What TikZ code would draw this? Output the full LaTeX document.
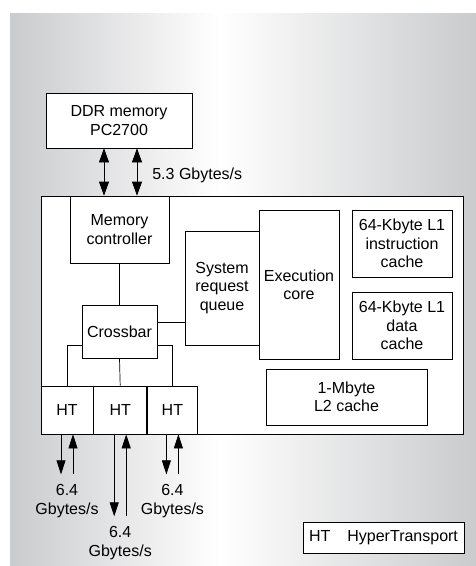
\documentclass[tikz,border=0pt]{standalone}
\usepackage{fontspec}
\setmainfont{Liberation Sans}
\usetikzlibrary{positioning,arrows.meta}
\definecolor{PanelGray}{RGB}{202,203,205}

\begin{document}
\begin{tikzpicture}[
  x=1pt, y=-1pt,
  every node/.style={font=\fontsize{16}{18.4}\selectfont, align=center},
  blk/.style={draw, fill=white, line width=0.7pt, inner sep=0pt},
  wire/.style={line width=0.7pt},
  arr/.style={-{Triangle[length=14pt,width=9pt]}, line width=0.7pt},
  dbl/.style={{Triangle[length=14pt,width=10pt]}-{Triangle[length=14pt,width=10pt]}, line width=0.7pt},
  rate/.style={inner sep=0pt}
]
\useasboundingbox (0,0) rectangle (476,566);
\shade[left color=PanelGray, right color=white] (10,13) rectangle (220,566);
\shade[left color=white, right color=PanelGray] (220,13) rectangle (476,566);

\node[blk, minimum width=146pt, minimum height=55pt] (ddr) at (119,120.5) {DDR memory\\PC2700};
\node[blk, minimum width=422pt, minimum height=238pt] (chip) at (252,315) {};
\node[blk, minimum width=99pt, minimum height=67pt] (mc) at (119.5,229.5) {Memory\\controller};
\node[blk, minimum width=75pt, minimum height=53pt] (xbar) at (119.5,331.5) {Crossbar};
\node[blk, minimum width=74pt, minimum height=114pt] (srq) at (222,288) {System\\request\\queue};
\node[blk, minimum width=80pt, minimum height=149pt] (exec) at (299,284.5) {Execution\\core};
\node[blk, minimum width=100pt, minimum height=67pt] (l1i) at (402,243.5) {64-Kbyte L1\\instruction\\cache};
\node[blk, minimum width=100pt, minimum height=67pt] (l1d) at (402,325.5) {64-Kbyte L1\\data\\cache};
\node[blk, minimum width=161pt, minimum height=56pt] (l2) at (346.5,397) {1-Mbyte\\L2 cache};
\node[blk, minimum width=52pt, minimum height=48pt] (ht1) at (67,410) {HT};
\node[blk, minimum width=53pt, minimum height=48pt, right=0pt of ht1] (ht2) {HT};
\node[blk, minimum width=50pt, minimum height=48pt, right=0pt of ht2] (ht3) {HT};
\node[blk, minimum width=161pt, minimum height=31pt] (key) at (383.5,537.5) {HT\hspace{17pt}HyperTransport};

\draw[dbl] ([xshift=-15pt]ddr.south) -- ([xshift=-15pt]ddr.south |- chip.north);
\draw[dbl] ([xshift=18pt]ddr.south) -- ([xshift=18pt]ddr.south |- chip.north)
  node[midway, right=15pt, yshift=-3pt, rate] (ddrrate) {5.3 Gbytes/s};

\draw[wire] (mc) -- (xbar);
\draw[wire] ([yshift=9.5pt]xbar.east) coordinate (xq) -- (xq -| srq.west);
\draw[wire] ([yshift=-13.5pt]xbar.west) -| (ht1.north);
\draw[wire] (xbar.south) -- (ht2.north);
\draw[wire] ([yshift=-13.5pt]xbar.east) -| (ht3.north);

\coordinate (e1) at ([yshift=-40pt]ht1.south);
\coordinate (e2) at ([yshift=-82pt]ht2.south);
\coordinate (e3) at ([yshift=-40pt]ht3.south);
\draw[arr] ([xshift=-6pt]ht1.south) -- ([xshift=-6pt]e1);
\draw[arr] ([xshift=6pt]e1) -- ([xshift=6pt]ht1.south);
\draw[arr] ([xshift=-6pt]ht2.south) -- ([xshift=-6pt]e2);
\draw[arr] ([xshift=6pt]e2) -- ([xshift=6pt]ht2.south);
\draw[arr] ([xshift=-6pt]ht3.south) -- ([xshift=-6pt]e3);
\draw[arr] ([xshift=6pt]e3) -- ([xshift=6pt]ht3.south);
\node[rate, below=10pt of e1] (r1) {6.4\\Gbytes/s};
\node[rate, below=10pt of e2] (r2) {6.4\\Gbytes/s};
\node[rate, below=10pt of e3] (r3) {6.4\\Gbytes/s};
\end{tikzpicture}
\end{document}
